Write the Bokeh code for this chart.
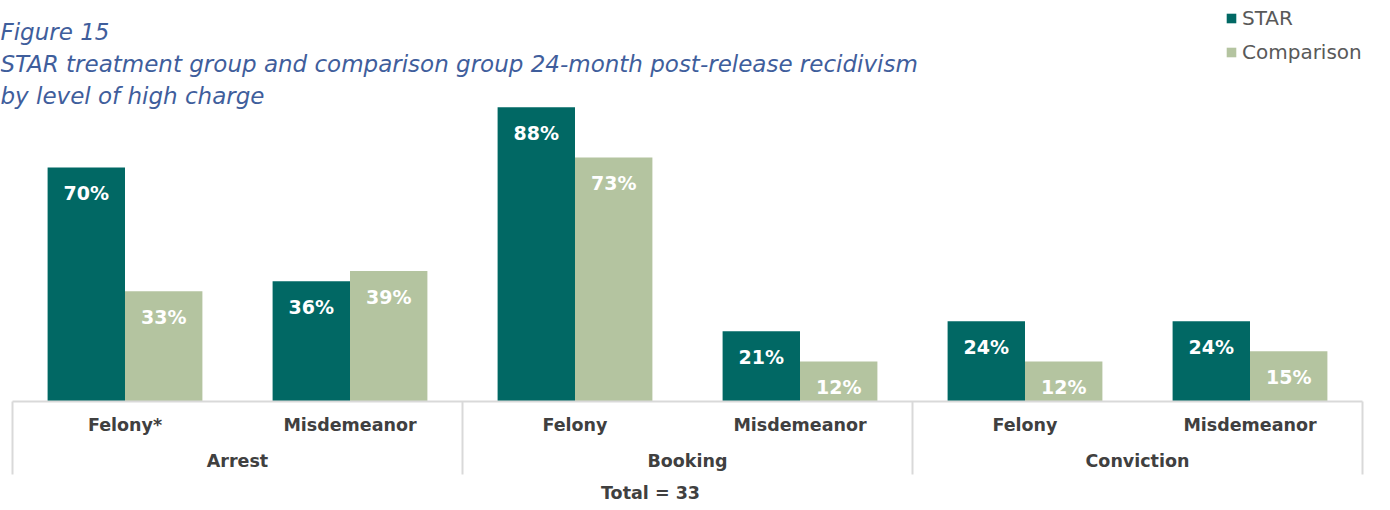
from bokeh.plotting import figure
from bokeh.models import FactorRange, Range1d, ColumnDataSource, Label, CategoricalAxis
from bokeh.transform import dodge
from bokeh.core.properties import value
from bokeh.embed import file_html
from bokeh.resources import INLINE

# ---- data ----
groups = ["Arrest", "Arrest", "Booking", "Booking", "Conviction", "Conviction"]
charges = ["Felony*", "Misdemeanor", "Felony", "Misdemeanor", "Felony", "Misdemeanor"]
star = [70, 36, 88, 21, 24, 24]
comparison = [33, 39, 73, 12, 12, 15]
series = ["STAR", "Comparison"]
total_text = "Total = 33"
title_lines = [
    "Figure 15",
    "STAR treatment group and comparison group 24-month post-release recidivism",
    "by level of high charge",
]

# ---- style ----
FONT = "DejaVu Sans"
STAR_C = "#016864"
COMP_C = "#b4c4a0"
TITLE_C = "#3f5e9c"
LABEL_C = "#404040"
GRID_C = "#d9d9d9"
W, H = 1374, 502
PX = 3.343          # pixels per percentage point
BASE = 401          # canvas y of the baseline
BW = 0.344
CAT_PX = 225.0      # pixels per category
PAD_PX = 12.0       # empty margin left/right of the categories

factors = list(zip(groups, charges))
n = len(factors)
x_range = FactorRange(*factors, factor_padding=0, group_padding=0,
                      subgroup_padding=0,
                      range_padding=2 * PAD_PX / CAT_PX / n,
                      range_padding_units="percent")
y_range = Range1d(-(H - BASE) / PX, BASE / PX)

p = figure(width=W, height=H, x_range=x_range, y_range=y_range,
           output_backend="svg", toolbar_location=None,
           x_axis_location=None, y_axis_location=None,
           min_border_left=0, min_border_right=0,
           min_border_top=0, min_border_bottom=0)
p.outline_line_color = None
p.xgrid.visible = False
p.ygrid.visible = False
p.background_fill_color = "white"
p.border_fill_color = "white"

src = ColumnDataSource(dict(
    x=factors, star=star, comparison=comparison,
    star_lbl=[f"{v}%" for v in star],
    comp_lbl=[f"{v}%" for v in comparison],
))

p.vbar(x=dodge("x", -BW / 2, range=p.x_range), top="star", width=BW,
       source=src, fill_color=STAR_C, line_color=None, legend_label=series[0])
p.vbar(x=dodge("x", BW / 2, range=p.x_range), top="comparison", width=BW,
       source=src, fill_color=COMP_C, line_color=None, legend_label=series[1])

for col, ycol, off in (("star_lbl", "star", -BW / 2), ("comp_lbl", "comparison", BW / 2)):
    p.text(x=dodge("x", off, range=p.x_range), y=ycol,
           text=col, source=src, text_align="center", text_baseline="middle",
           y_offset=26, text_color="white", text_font=value(FONT),
           text_font_style="bold", text_font_size="19px")

# group dividers and baseline
seen = []
div_x = []
for g, c in factors:
    if g not in seen:
        seen.append(g)
        div_x.append((g, c, -0.5))
div_x.append((factors[-1][0], factors[-1][1], 0.5))
p.segment(x0=div_x, y0=[0] * len(div_x), x1=div_x,
          y1=[-(474 - BASE) / PX] * len(div_x),
          line_color=GRID_C, line_width=2)
p.segment(x0=[div_x[0]], y0=[0], x1=[div_x[-1]], y1=[0],
          line_color=GRID_C, line_width=2)

ax = CategoricalAxis(fixed_location=0)
ax.axis_line_color = None
ax.major_tick_line_color = None
ax.minor_tick_line_color = None
ax.major_tick_out = 0
ax.major_tick_in = 0
ax.major_label_standoff = 13
ax.major_label_text_font = FONT
ax.major_label_text_font_size = "17.5px"
ax.major_label_text_font_style = "bold"
ax.major_label_text_color = LABEL_C
ax.group_text_font = FONT
ax.group_text_font_size = "17.5px"
ax.group_text_font_style = "bold"
ax.group_text_color = LABEL_C
ax.separator_line_color = None
p.add_layout(ax, "below")

# title
for i, t in enumerate(title_lines):
    p.add_layout(Label(x=0, y=H - (31 + 32 * i), x_units="screen", y_units="screen",
                       text=t, text_font=FONT, text_font_style="italic",
                       text_font_size="23px", text_color=TITLE_C,
                       text_baseline="middle", text_align="left"))

p.add_layout(Label(x=650, y=H - 492, x_units="screen", y_units="screen",
                   text=total_text, text_font=FONT, text_font_style="bold",
                   text_font_size="17.5px", text_color=LABEL_C,
                   text_baseline="middle", text_align="center"))

lg = p.legend[0]
lg.location = (1225, H - 64)
lg.orientation = "vertical"
lg.padding = 0
lg.margin = 0
lg.spacing = 10
lg.glyph_width = 12
lg.glyph_height = 12
lg.label_standoff = 5
lg.label_height = 24
lg.label_text_font = FONT
lg.label_text_font_size = "20px"
lg.label_text_color = "#595959"
lg.background_fill_alpha = 0
lg.border_line_color = None

open("out.html", "w").write(file_html(p, INLINE))
